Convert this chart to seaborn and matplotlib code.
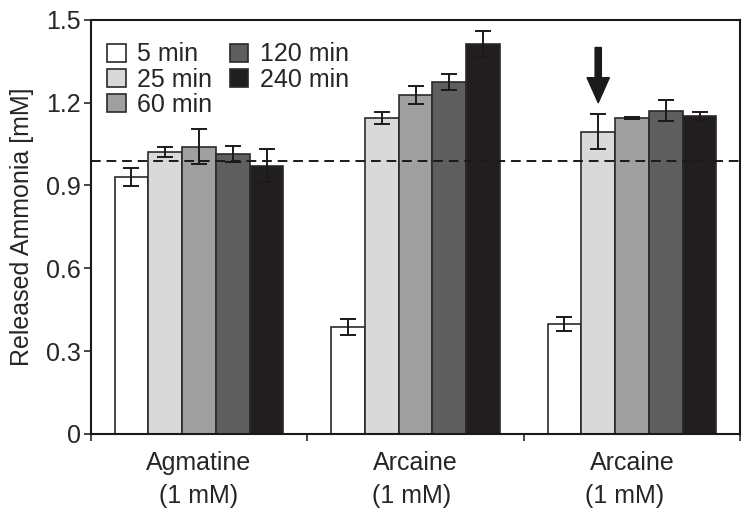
import numpy as np
import pandas as pd
import seaborn as sns
from matplotlib import pyplot as plt

groups = ["Agmatine\n(1 mM)", "Arcaine\n(1 mM) ", "Arcaine\n(1 mM)  "]
times = ["5 min", "25 min", "60 min", "120 min", "240 min"]
means = [
    [0.931, 1.022, 1.040, 1.014, 0.971],
    [0.388, 1.145, 1.228, 1.275, 1.413],
    [0.399, 1.095, 1.146, 1.171, 1.151],
]
errors = [
    [0.034, 0.018, 0.063, 0.030, 0.060],
    [0.028, 0.022, 0.033, 0.029, 0.047],
    [0.026, 0.064, 0.004, 0.039, 0.015],
]
colors = ["#ffffff", "#d9d9d9", "#a0a0a0", "#5e5e5e", "#221e1f"]
baseline = 0.99

rows = []
for g, vals in zip(groups, means):
    for t, v in zip(times, vals):
        rows.append({"group": g, "time": t, "value": v})
df = pd.DataFrame(rows)

sns.set_style("ticks")
plt.rcParams["font.family"] = ["Liberation Sans", "DejaVu Sans"]
fs = 18

fig = plt.figure(figsize=(7.5, 5.11), dpi=100)
ax = fig.add_axes([0.121, 0.151, 0.866, 0.810])

sns.barplot(data=df, x="group", y="value", hue="time", order=groups,
            hue_order=times, palette=colors, width=0.78, edgecolor="#2a2a2a",
            linewidth=1.2, saturation=1, errorbar=None, ax=ax)

bar_conts = list(ax.containers)

# error bars on top of each bar
for i, cont in enumerate(bar_conts):
    xs = [p.get_x() + p.get_width() / 2 for p in cont.patches]
    ys = [m[i] for m in means]
    es = [e[i] for e in errors]
    ax.errorbar(xs, ys, yerr=es, fmt="none", ecolor="#1a1a1a",
                elinewidth=1.4, capsize=6, capthick=1.4, zorder=5)

ax.axhline(baseline, color="#1a1a1a", linestyle=(0, (5, 3)), linewidth=1.4,
           zorder=4)

# arrow above the 25 min bar of the last group
p = bar_conts[1].patches[2]
arrow_x = p.get_x() + p.get_width() / 2
ax.annotate("", xy=(arrow_x, 1.20), xytext=(arrow_x, 1.40),
            arrowprops=dict(facecolor="#1a1a1a", edgecolor="#1a1a1a",
                            width=4.5, headwidth=16, headlength=18))

ax.set_xlim(-0.5, 2.5)
ax.set_ylim(0, 1.5)
ax.set_yticks([0, 0.3, 0.6, 0.9, 1.2, 1.5])
ax.set_yticklabels(["0", "0.3", "0.6", "0.9", "1.2", "1.5"], fontsize=fs)
ax.set_xticks([0, 1, 2])
ax.set_xticklabels(groups, fontsize=fs, linespacing=1.5)
ax.set_xticks([-0.5, 0.5, 1.5, 2.5], minor=True)
ax.tick_params(axis="x", which="major", length=0, pad=12)
ax.tick_params(axis="x", which="minor", length=5, width=1.2, direction="out")
ax.tick_params(axis="y", length=5, width=1.2, direction="out", pad=2)
ax.set_xlabel("")
ax.set_ylabel("Released Ammonia [mM]", fontsize=fs, labelpad=9)

for s in ax.spines.values():
    s.set_visible(True)
    s.set_linewidth(1.5)
    s.set_color("#1a1a1a")

ax.legend(loc="upper left", ncol=2, frameon=False, fontsize=fs,
          handlelength=0.75, handleheight=0.75, handletextpad=0.45,
          columnspacing=0.7, labelspacing=0.05, borderaxespad=0.35,
          borderpad=0.3, bbox_to_anchor=(0.0, 0.985))

fig.savefig("out.png", dpi=100)
